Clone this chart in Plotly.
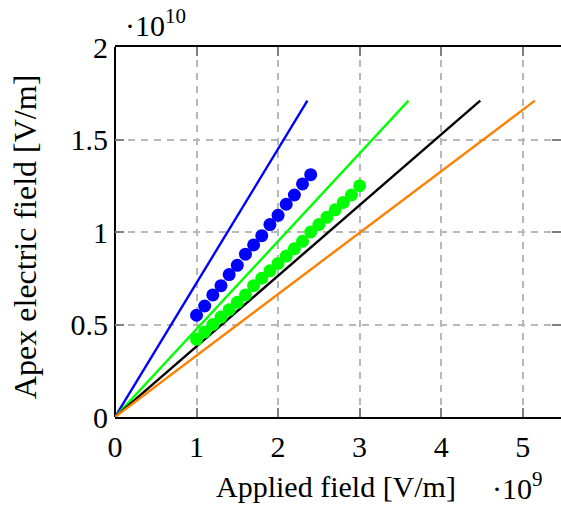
import plotly.graph_objects as go

# Reference lines from the origin: end points (applied field in 1e9 V/m, apex field in 1e10 V/m)
line_names = ["blue", "green", "black", "orange"]
line_colors = ["#0000ff", "#00ff00", "#000000", "#ff8000"]
line_x_end = [2.36, 3.60, 4.48, 5.15]
line_y_end = [1.71, 1.71, 1.71, 1.71]

# Measured apex fields
blue_x = [1.0, 1.1, 1.2, 1.3, 1.4, 1.5, 1.6, 1.7, 1.8, 1.9, 2.0, 2.1, 2.2, 2.3, 2.4]
blue_y = [0.55, 0.60, 0.66, 0.71, 0.77, 0.82, 0.88, 0.93, 0.98, 1.04, 1.09, 1.15, 1.20, 1.26, 1.31]
green_x = [1.0, 1.1, 1.2, 1.3, 1.4, 1.5, 1.6, 1.7, 1.8, 1.9, 2.0,
           2.1, 2.2, 2.3, 2.4, 2.5, 2.6, 2.7, 2.8, 2.9, 3.0]
green_y = [0.42, 0.46, 0.50, 0.54, 0.58, 0.62, 0.66, 0.71, 0.75, 0.79, 0.83,
           0.87, 0.91, 0.95, 1.00, 1.04, 1.08, 1.12, 1.16, 1.20, 1.25]

x_ticks = [0, 1, 2, 3, 4, 5]
y_ticks = [0, 0.5, 1, 1.5, 2]
y_tick_text = ["0", "0.5", "1", "1.5", "2"]

FONT = "Liberation Serif"
W, H = 561, 517
M_L, M_R, M_T, M_B = 115, 0, 47, 100

fig = go.Figure()

for name, color, xe, ye in zip(line_names, line_colors, line_x_end, line_y_end):
    fig.add_trace(go.Scatter(x=[0, xe], y=[0, ye], mode="lines", name=name,
                             line=dict(color=color, width=2.4), showlegend=False))

fig.add_trace(go.Scatter(x=blue_x, y=blue_y, mode="markers", showlegend=False,
                         marker=dict(color="#0000ff", size=13, line=dict(width=0))))
fig.add_trace(go.Scatter(x=green_x, y=green_y, mode="markers", showlegend=False,
                         marker=dict(color="#00ff00", size=13, line=dict(width=0))))

grid = dict(showgrid=True, gridcolor="#b8b8b8", gridwidth=1.5, griddash="7px,6px")

fig.update_xaxes(range=[0, 5.47], tickvals=x_ticks, ticktext=[str(v) for v in x_ticks],
                 ticks="inside", ticklen=9, tickwidth=1.5, tickcolor="#808080",
                 showline=True, linecolor="black", linewidth=2, mirror="ticks",
                 zeroline=True, zerolinecolor="black", zerolinewidth=2,
                 tickfont=dict(family=FONT, size=30, color="black"),
                 ticklabelstandoff=2,
                 **grid)
fig.update_yaxes(range=[0, 2], tickvals=y_ticks, ticktext=y_tick_text,
                 ticks="inside", ticklen=9, tickwidth=1.5, tickcolor="#808080",
                 showline=False, mirror="ticks",
                 zeroline=True, zerolinecolor="black", zerolinewidth=2,
                 tickfont=dict(family=FONT, size=30, color="black"),
                 ticklabelstandoff=6,
                 **grid)

# Axis titles and exponent labels placed in paper pixels
def px_x(p):
    return (p - M_L) / (W - M_L - M_R)

def px_y(p):
    return (H - M_B - p) / (H - M_T - M_B)

fig.add_annotation(text="Applied field [V/m]", xref="paper", yref="paper",
                   x=px_x(336), y=px_y(486), xanchor="center", yanchor="middle",
                   showarrow=False, font=dict(family=FONT, size=30, color="black"))
fig.add_annotation(text="Apex electric field [V/m]", xref="paper", yref="paper",
                   x=px_x(25), y=px_y(237), xanchor="center", yanchor="middle", textangle=-90,
                   showarrow=False, font=dict(family=FONT, size=32, color="black"))
fig.add_annotation(text="·10<sup>10</sup>", xref="paper", yref="paper",
                   x=px_x(123), y=px_y(23), xanchor="left", yanchor="middle",
                   showarrow=False, font=dict(family=FONT, size=30, color="black"))
fig.add_annotation(text="·10<sup>9</sup>", xref="paper", yref="paper",
                   x=px_x(545), y=px_y(486), xanchor="right", yanchor="middle",
                   showarrow=False, font=dict(family=FONT, size=30, color="black"))

fig.update_layout(width=W, height=H, margin=dict(l=M_L, r=M_R, t=M_T, b=M_B),
                  plot_bgcolor="white", paper_bgcolor="white",
                  font=dict(family=FONT, color="black"))

fig.write_html("out.html")
